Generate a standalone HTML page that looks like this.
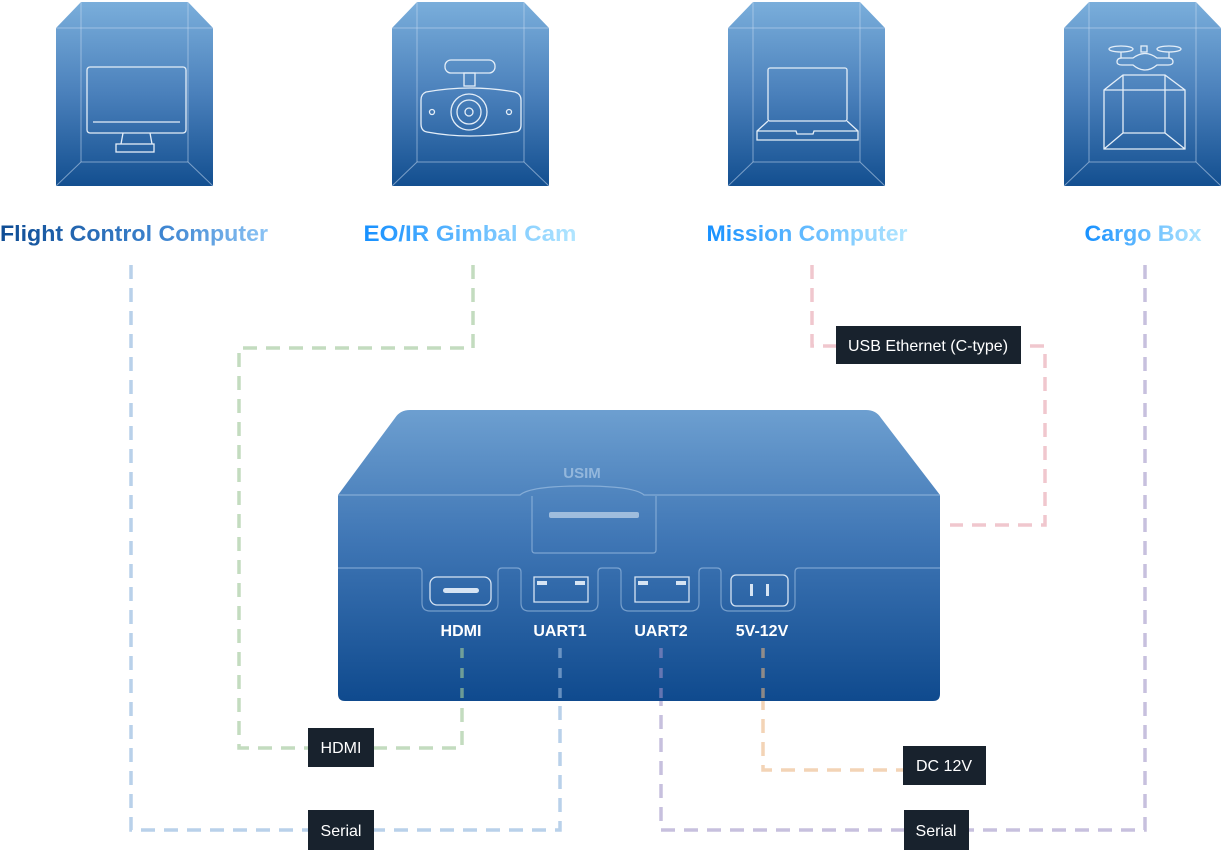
<!DOCTYPE html>
<html><head><meta charset="utf-8"><style>
html,body{margin:0;padding:0;background:#fff;width:1224px;height:852px;overflow:hidden}
svg{display:block}
text{font-family:"Liberation Sans",sans-serif}
</style></head><body>
<svg width="1224" height="852" viewBox="0 0 1224 852" xmlns="http://www.w3.org/2000/svg">
<defs>
<linearGradient id="bg" x1="0" y1="0" x2="0" y2="1">
<stop offset="0" stop-color="#7aaedb"/><stop offset="0.5" stop-color="#4a80bb"/><stop offset="1" stop-color="#134f90"/></linearGradient>
<linearGradient id="dev" x1="0" y1="0" x2="0" y2="1">
<stop offset="0" stop-color="#6d9fd0"/><stop offset="0.45" stop-color="#3f76b5"/><stop offset="1" stop-color="#0f4a8e"/></linearGradient>
<linearGradient id="t1" x1="0" x2="1"><stop offset="0" stop-color="#0e4c94"/><stop offset="0.6" stop-color="#3d84d0"/><stop offset="1" stop-color="#8cc4f5"/></linearGradient>
<linearGradient id="t2" x1="0" x2="1"><stop offset="0" stop-color="#1690ff"/><stop offset="1" stop-color="#b2e6ff"/></linearGradient>
<g id="box">
<path d="M0 28 L25 2 L132 2 L157 28 L157 186 L0 186 Z" fill="url(#bg)"/>
<g fill="none" stroke="#c8daf0" stroke-opacity="0.55" stroke-width="1">
<path d="M0 28 H157"/><path d="M25 2 V162 M132 2 V162"/><path d="M25 162 H132 M25 162 L0 186 M132 162 L157 186"/>
</g>
</g>
</defs>

<use href="#box" x="56"/>
<use href="#box" x="392"/>
<use href="#box" x="728"/>
<use href="#box" x="1064"/>

<g fill="none" stroke="#e4eef8" stroke-width="1.3">
<rect x="87" y="67" width="99" height="66" rx="3"/><path d="M93 122 H180"/><path d="M123 133 L121 144 M150 133 L152 144"/><rect x="116" y="144" width="38" height="8"/>
<rect x="445" y="60" width="50" height="13" rx="6"/><rect x="464" y="73" width="11" height="13"/>
<path d="M426 92 Q470 84 515 92 Q521 94 521 100 V125 Q521 132 514 132 Q470 140 427 132 Q421 131 421 124 V100 Q421 94 426 92 Z"/>
<circle cx="469" cy="112" r="18"/><circle cx="469" cy="112" r="12"/><circle cx="469" cy="112" r="4"/>
<circle cx="432" cy="112" r="2.5"/><circle cx="509" cy="112" r="2.5"/>
<rect x="768" y="68" width="79" height="53" rx="2"/><path d="M768 121 L757 131 V140 H858 V131 L847 121 M757 131 H796 L797 134 H813 L814 131 H858"/>
<ellipse cx="1121" cy="49" rx="12" ry="3"/><ellipse cx="1169" cy="49" rx="12" ry="3"/>
<rect x="1141" y="46" width="6" height="6"/>
<path d="M1121 52 V58 M1169 52 V58"/>
<path d="M1122 58 H1133 Q1145 49 1157 58 H1168 Q1173 58 1173 62 Q1173 65 1168 65 H1157 Q1145 75 1133 65 H1122 Q1117 65 1117 62 Q1117 58 1122 58 Z"/>
<path d="M1123 75 H1165 L1185 90 V149 H1104 V90 Z M1104 90 H1185 M1123 75 V133 H1165 V75 M1123 133 L1104 149 M1165 133 L1185 149"/>
</g>

<g font-weight="bold" font-size="22">
<text x="134" y="241" text-anchor="middle" fill="url(#t1)" textLength="268" lengthAdjust="spacingAndGlyphs">Flight Control Computer</text>
<text x="470" y="241" text-anchor="middle" fill="url(#t2)" textLength="213" lengthAdjust="spacingAndGlyphs">EO/IR Gimbal Cam</text>
<text x="807" y="241" text-anchor="middle" fill="url(#t2)" textLength="201" lengthAdjust="spacingAndGlyphs">Mission Computer</text>
<text x="1143" y="241" text-anchor="middle" fill="url(#t2)" textLength="117" lengthAdjust="spacingAndGlyphs">Cargo Box</text>
</g>

<g fill="none" stroke-width="3.5" stroke-dasharray="14 9" stroke-linecap="butt">
<path d="M131 265 V830 H560 V650" stroke="#b9d1ea"/>
<path d="M473 265 V348 H239 V748 H462 V650" stroke="#c3dcbf"/>
<path d="M812 265 V346 H1045 V525 H950" stroke="#f0c7ce"/>
<path d="M1145 265 V830 H661 V650" stroke="#c7c0de"/>
<path d="M763 650 V770 H903" stroke="#f3d4b6"/>
</g>

<path d="M338 495 L395 418 Q400 410 410 410 H866 Q876 410 881 418 L940 495 V694 Q940 701 933 701 H345 Q338 701 338 694 Z" fill="url(#dev)"/>
<g fill="none" stroke="#a9c6e6" stroke-opacity="0.6" stroke-width="1.2">
<path d="M338 495 H520 Q530 486 582 486 Q634 486 644 495 H940"/>
<path d="M532 496 V550 Q532 553 535 553 H653 Q656 553 656 550 V496"/>
<path d="M338 568 H418 Q422 568 422 572 V603 Q422 611 430 611 H490 Q498 611 498 603 V572 Q498 568 502 568 H517 Q521 568 521 572 V603 Q521 611 529 611 H590 Q598 611 598 603 V572 Q598 568 602 568 H617 Q621 568 621 572 V603 Q621 611 629 611 H691 Q699 611 699 603 V572 Q699 568 703 568 H717 Q721 568 721 572 V603 Q721 611 729 611 H787 Q795 611 795 603 V572 Q795 568 799 568 H940"/>
</g>
<text x="582" y="478" text-anchor="middle" font-size="15" font-weight="bold" fill="#a3c2e2" fill-opacity="0.8">USIM</text>
<rect x="549" y="512" width="90" height="6" rx="2" fill="#b5cde6" fill-opacity="0.8"/>
<g fill="none" stroke="#d6e4f3" stroke-width="1.3">
<rect x="430" y="577" width="61" height="28" rx="7"/>
<path d="M534 577 H588 V602 H534 Z"/><path d="M635 577 H689 V602 H635 Z"/>
<rect x="731" y="575" width="57" height="31" rx="5"/>
</g>
<g fill="#d6e4f3">
<rect x="443" y="588" width="36" height="5" rx="2.5"/>
<rect x="537" y="581" width="10" height="4"/><rect x="575" y="581" width="10" height="4"/>
<rect x="638" y="581" width="10" height="4"/><rect x="676" y="581" width="10" height="4"/>
<rect x="750" y="584" width="3" height="12"/><rect x="766" y="584" width="3" height="12"/>
</g>
<g font-size="16" font-weight="bold" fill="#fff" text-anchor="middle">
<text x="461" y="636">HDMI</text><text x="560" y="636">UART1</text><text x="661" y="636">UART2</text><text x="762" y="636">5V-12V</text>
</g>
<g fill="none" stroke-width="3.5" stroke-dasharray="10 10" stroke-opacity="0.6">
<path d="M462 648 V701" stroke="#a8d09a"/><path d="M560 648 V701" stroke="#9fbde0"/>
<path d="M661 648 V701" stroke="#9a90c8"/><path d="M763 648 V701" stroke="#e0b080"/>
</g>

<g fill="#18222d">
<rect x="836" y="326" width="185" height="38"/>
<rect x="308" y="728" width="66" height="39"/>
<rect x="903" y="746" width="83" height="39"/>
<rect x="308" y="810" width="66" height="40"/>
<rect x="904" y="810" width="65" height="40"/>
</g>
<g font-size="16" fill="#fff" text-anchor="middle">
<text x="928" y="351">USB Ethernet (C-type)</text>
<text x="341" y="753">HDMI</text>
<text x="944" y="771">DC 12V</text>
<text x="341" y="836">Serial</text>
<text x="936" y="836">Serial</text>
</g>
</svg>
</body></html>
